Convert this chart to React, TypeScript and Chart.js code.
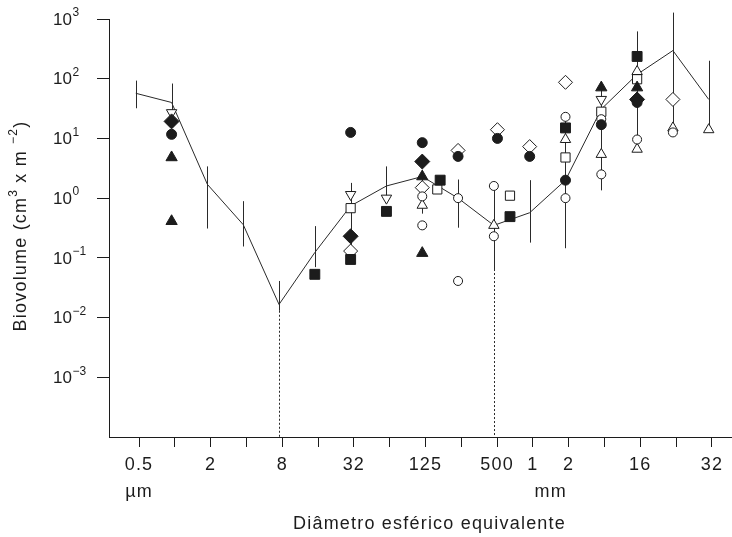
import { useEffect, useRef } from 'react';
import { Chart, registerables } from 'chart.js';

Chart.register(...registerables);

// Size classes are octave steps; index 0 = 0.5 µm … index 16 = 32 mm.
const classTickLabels = ['0.5', '', '2', '', '8', '', '32', '', '125', '', '500', '1', '2', '', '16', '', '32'];

// Mean biovolume per size class (cm³ m⁻²) with the range around it.
const meanBiovolume = [57, 40, 1.7, 0.36, 0.0166, 0.123, 0.74, 1.6, 2.3, 1.0, 0.35, 0.57, 2.0, 31, 118, 296, 45];
const upperBound = [93, 83, 3.4, 0.89, 0.041, 0.34, 1.8, 3.4, 3.0, 2.05, 1.6, 2.0, 23, 75, 620, 1280, 200];
const lowerBound = [32, 22, 0.31, 0.155, 0.013, 0.07, 0.094, 1.0, 0.55, 0.32, 0.065, 0.18, 0.145, 1.35, 5.9, 12.6, 14];
// classes whose lower range runs off the bottom of the log axis
const openLowerClasses = [4, 10];

// Individual samples, [size class, biovolume]
const filledCircles = [[1, 11.7], [6, 12.6], [8, 8.5], [9, 5.0], [10.1, 10], [11, 5.0], [12, 2.0], [13, 17], [14, 40]];
const openCircles = [[8, 1.07], [8, 0.35], [9, 1.0], [9, 0.041], [10, 1.6], [10, 0.23], [12, 23], [12, 1.0], [13, 21], [13, 2.5], [14, 9.6], [15, 12.6]];
const filledTriangles = [[1, 4.8], [1, 0.41], [8, 2.3], [8, 0.12], [13, 71], [14, 71]];
const openTriangles = [[8, 0.76], [10, 0.35], [12, 9.6], [13, 5.4], [14, 132], [14, 6.6], [15, 15], [16, 14]];
const filledSquares = [[5, 0.053], [6, 0.094], [7, 0.6], [8.5, 2.0], [10.45, 0.49], [12, 15], [14, 236]];
const openSquares = [[6, 0.68], [8.42, 1.4], [10.45, 1.1], [12, 4.8], [13, 28], [14, 98]];
const filledDiamonds = [[1, 19.3], [6, 0.23], [8, 4.1], [14, 45]];
const openDiamonds = [[6, 0.13], [8, 1.5], [9, 6.3], [10.1, 14], [11, 7.3], [12, 87], [15, 45]];
const openDownTriangles = [[1, 27], [6, 1.15], [7, 1.0], [13, 45]];

const decadeTicks = [1e-3, 1e-2, 1e-1, 1, 10, 100, 1000];

const xTitle = 'Diâmetro esférico equivalente';
// y title pieces: [text, superscript?]
const yTitleParts: [string, boolean][] = [['Biovolume (cm', false], ['3', true], [' x m ', false], ['\u22122', true], [')', false]];

const FONT = '"Liberation Sans", Arial, Helvetica, sans-serif';
const INK = '#1c1c1c';
const TICK_SHIFT = 0.09;
const SPACING = '1.2px';

const toPoints = (pairs: number[][]) => pairs.map(([x, y]) => ({ x, y }));

const markerSet = (label: string, pairs: number[][], pointStyle: string, filled: boolean, radius: number, rotation = 0) => ({
  label,
  data: toPoints(pairs),
  pointStyle,
  pointRadius: radius,
  pointRotation: rotation,
  pointBackgroundColor: filled ? INK : '#ffffff',
  pointBorderColor: INK,
  pointBorderWidth: 1,
  showLine: false,
  order: 0,
});

const exponentText = (v: number) => {
  const n = Math.round(Math.log10(v));
  return n < 0 ? '\u2212' + String(-n) : String(n);
};

const errorBarPlugin = {
  id: 'errorBars',
  beforeDatasetsDraw(chart: any) {
    const { ctx, scales, chartArea } = chart;
    const x = scales.x;
    const y = scales.y;
    ctx.save();
    ctx.strokeStyle = '#2a2a2a';
    ctx.lineWidth = 1;
    meanBiovolume.forEach((_, i) => {
      const px = Math.round(x.getPixelForValue(i)) + 0.5;
      const lo = y.getPixelForValue(lowerBound[i]);
      ctx.setLineDash([]);
      ctx.beginPath();
      ctx.moveTo(px, y.getPixelForValue(upperBound[i]));
      ctx.lineTo(px, lo);
      ctx.stroke();
      if (openLowerClasses.includes(i)) {
        ctx.setLineDash([2, 2]);
        ctx.beginPath();
        ctx.moveTo(px, lo);
        ctx.lineTo(px, chartArea.bottom);
        ctx.stroke();
      }
    });
    ctx.restore();
  },
};

const axisTextPlugin = {
  id: 'axisText',
  beforeDraw(chart: any) {
    chart.ctx.letterSpacing = SPACING;
  },
  afterDraw(chart: any) {
    const { ctx, scales } = chart;
    const x = scales.x;
    const y = scales.y;
    ctx.save();
    ctx.fillStyle = INK;

    // decade labels 10ⁿ on the y axis
    ctx.letterSpacing = '0px';
    ctx.textAlign = 'left';
    ctx.textBaseline = 'middle';
    decadeTicks.forEach((v) => {
      const py = y.getPixelForValue(v);
      const left = y.right - 56;
      ctx.font = `17px ${FONT}`;
      ctx.fillText('10', left, py + 1);
      const w = ctx.measureText('10').width;
      ctx.font = `12px ${FONT}`;
      ctx.fillText(exponentText(v), left + w + 0.5, py - 6);
    });

    // unit names under the size classes
    ctx.letterSpacing = SPACING;
    ctx.font = `18px ${FONT}`;
    ctx.textAlign = 'center';
    ctx.fillText('\u00b5m', x.getPixelForValue(TICK_SHIFT), x.top + 55);
    ctx.fillText('mm', x.getPixelForValue(11.5 + TICK_SHIFT), x.top + 55);

    // x axis title
    ctx.fillText(xTitle, (x.left + x.right) / 2 + 9, x.top + 87);

    // y axis title, rotated, with superscripts
    const mainFont = `18px ${FONT}`;
    const supFont = `12px ${FONT}`;
    let total = 0;
    const widths = yTitleParts.map(([t, sup]) => {
      ctx.font = sup ? supFont : mainFont;
      const w = ctx.measureText(t).width;
      total += w;
      return w;
    });
    ctx.save();
    ctx.translate(20, (y.top + y.bottom) / 2 - 2);
    ctx.rotate(-Math.PI / 2);
    ctx.textAlign = 'left';
    ctx.textBaseline = 'middle';
    let cx = -total / 2;
    yTitleParts.forEach(([t, sup], i) => {
      ctx.font = sup ? supFont : mainFont;
      ctx.fillText(t, cx, sup ? -6 : 1);
      cx += widths[i];
    });
    ctx.restore();

    ctx.restore();
  },
};

export default function App() {
  const canvasRef = useRef<HTMLCanvasElement | null>(null);

  useEffect(() => {
    if (!canvasRef.current) return;
    const chart = new Chart(canvasRef.current, {
      type: 'scatter',
      data: {
        datasets: [
          {
            label: 'Média',
            data: meanBiovolume.map((v, i) => ({ x: i, y: v })),
            showLine: true,
            borderColor: '#2a2a2a',
            borderWidth: 1,
            pointRadius: 0,
            order: 10,
          } as any,
          markerSet('filled circle', filledCircles, 'circle', true, 5),
          markerSet('open circle', openCircles, 'circle', false, 4.5),
          markerSet('filled triangle', filledTriangles, 'triangle', true, 6.5),
          markerSet('open triangle', openTriangles, 'triangle', false, 6),
          markerSet('filled square', filledSquares, 'rect', true, 7),
          markerSet('open square', openSquares, 'rect', false, 6.5),
          markerSet('filled diamond', filledDiamonds, 'rectRot', true, 7.5),
          markerSet('open diamond', openDiamonds, 'rectRot', false, 7),
          markerSet('open inverted triangle', openDownTriangles, 'triangle', false, 6, 180),
        ],
      },
      options: {
        animation: false,
        responsive: false,
        maintainAspectRatio: false,
        devicePixelRatio: 1,
        layout: { autoPadding: false, padding: { top: 19, right: 0, bottom: 0, left: 0 } },
        plugins: {
          legend: { display: false },
          tooltip: { enabled: false },
        },
        scales: {
          x: {
            type: 'linear',
            min: -0.748,
            max: 16.65,
            afterBuildTicks: (scale: any) => {
              scale.ticks = classTickLabels.map((_, i) => ({ value: i + TICK_SHIFT }));
            },
            afterFit: (scale: any) => {
              scale.height = 100;
              scale.paddingLeft = 0;
              scale.paddingRight = 0;
            },
            border: { display: true, color: INK, width: 1 },
            grid: { drawOnChartArea: false, drawTicks: true, tickLength: 10, color: INK, lineWidth: 1 },
            ticks: {
              autoSkip: false,
              maxRotation: 0,
              padding: 7,
              color: INK,
              font: { family: FONT, size: 18 },
              callback: (_v: any, i: number) => classTickLabels[i],
            },
            title: { display: false },
          },
          y: {
            type: 'logarithmic',
            min: 1e-4,
            max: 1e3,
            afterBuildTicks: (scale: any) => {
              scale.ticks = decadeTicks.map((v) => ({ value: v }));
            },
            afterFit: (scale: any) => {
              scale.width = 109;
              scale.paddingTop = 0;
              scale.paddingBottom = 0;
            },
            border: { display: true, color: INK, width: 1 },
            grid: { drawOnChartArea: false, drawTicks: true, tickLength: 12, color: INK, lineWidth: 1 },
            ticks: {
              color: INK,
              font: { family: FONT, size: 17 },
              callback: () => '',
            },
            title: { display: false },
          },
        },
      },
      plugins: [errorBarPlugin, axisTextPlugin],
    } as any);
    return () => chart.destroy();
  }, []);

  return (
    <div style={{ position: 'fixed', left: 0, top: 0, width: 732, height: 537, background: '#ffffff' }}>
      <canvas ref={canvasRef} width={732} height={537} style={{ display: 'block', width: 732, height: 537 }} />
    </div>
  );
}
